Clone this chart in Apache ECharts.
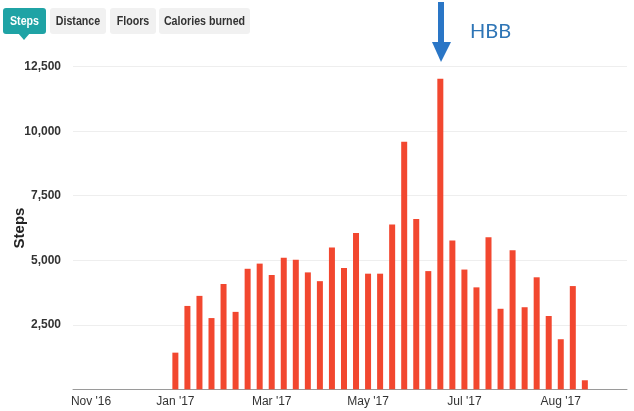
<!DOCTYPE html>
<html>
<head>
<meta charset="utf-8">
<script src="https://cdn.jsdelivr.net/npm/echarts@6/dist/echarts.min.js"></script>
<style>
html,body{margin:0;padding:0;background:#fff;}
#chart{width:634px;height:411px;}
</style>
</head>
<body>
<div id="chart"></div>
<script>
// Weekly categories (46 weeks shown on the axis)
const weeks = [
  "w01","w02","w03","w04","w05","w06","w07","w08","w09","w10",
  "w11","w12","w13","w14","w15","w16","w17","w18","w19","w20",
  "w21","w22","w23","w24","w25","w26","w27","w28","w29","w30",
  "w31","w32","w33","w34","w35","w36","w37","w38","w39","w40",
  "w41","w42","w43","w44","w45","w46"
];
// Steps per week (null = no data)
const steps = [
  null, null, null, null, null, null, null, null,
  1420, 3230, 3620, 2760, 4080, 3000, 4670, 4870, 4430, 5100,
  5020, 4530, 4190, 5490, 4700, 6060, 4480, 4480, 6390, 9590,
  6600, 4580, 12030, 5770, 4640, 3950, 5890, 3120, 5390, 3180,
  4340, 2840, 1940, 4000, 350,
  null, null, null
];
// Month tick labels and the week index where each appears
const tickIndex = [1, 8, 16, 24, 32, 40];
const tickLabels = ["Nov '16", "Jan '17", "Mar '17", "May '17", "Jul '17", "Aug '17"];
const yTicks = [0, 2500, 5000, 7500, 10000, 12500];
const tabs = ["Steps", "Distance", "Floors", "Calories burned"];
const annotation = "HBB";

const chart = echarts.init(document.getElementById('chart'));
const font = "'Liberation Sans', Arial, sans-serif";

const tabGeom = [[3, 43], [50, 56], [110, 46], [159, 91]];
const graphics = [];
tabs.forEach((t, i) => {
  const [x, w] = tabGeom[i];
  const active = i === 0;
  graphics.push({
    type: 'rect', left: x, top: 8,
    shape: { width: w, height: 26, r: 3 },
    style: { fill: active ? '#1fa3a5' : '#f1f1f1' }
  });
  graphics.push({
    type: 'text', x: x + w / 2, y: 21, scaleX: 0.82,
    style: {
      text: t, fill: active ? '#ffffff' : '#333333',
      font: "bold 13px " + font, align: 'center', verticalAlign: 'middle'
    }
  });
});
graphics.push({
  type: 'polygon',
  shape: { points: [[18, 33], [30, 33], [24, 40]] },
  style: { fill: '#1fa3a5' }
});
// annotation arrow
graphics.push({
  type: 'rect', shape: { x: 438, y: 2, width: 6, height: 41 },
  style: { fill: '#2a76c6' }
});
graphics.push({
  type: 'polygon',
  shape: { points: [[432, 42], [451, 42], [441, 62]] },
  style: { fill: '#2a76c6' }
});
graphics.push({
  type: 'text', x: 470, y: 32,
  style: {
    text: annotation, fill: '#2e75b6',
    font: "20px Lato, 'Open Sans', sans-serif", verticalAlign: 'middle'
  }
});

chart.setOption({
  animation: false,
  backgroundColor: '#ffffff',
  grid: { left: 73, right: 7, top: 66.7, bottom: 21.7, containLabel: false, outerBoundsMode: 'none' },
  xAxis: {
    type: 'category',
    data: weeks,
    boundaryGap: true,
    axisLine: { lineStyle: { color: '#9a9a9a', width: 1 } },
    axisTick: { show: false },
    axisLabel: {
      interval: (idx) => tickIndex.indexOf(idx) >= 0,
      formatter: (v, idx) => {
        const k = tickIndex.indexOf(idx);
        return k >= 0 ? tickLabels[k] : '';
      },
      color: '#333333', fontFamily: font, fontSize: 12, margin: 6
    },
    splitLine: { show: false }
  },
  yAxis: {
    type: 'value',
    min: yTicks[0], max: yTicks[yTicks.length - 1], interval: 2500,
    name: 'Steps',
    nameLocation: 'middle',
    nameGap: 46,
    nameMoveOverlap: false,
    nameTextStyle: { fontFamily: font, fontSize: 15, fontWeight: 'bold', color: '#222' },
    axisLine: { show: false },
    axisTick: { show: false },
    axisLabel: {
      showMinLabel: false,
      formatter: (v) => v.toLocaleString('en-US'),
      color: '#333333', fontFamily: font, fontSize: 12, fontWeight: 'bold', margin: 12
    },
    splitLine: { lineStyle: { color: '#eeeeee', width: 1 } }
  },
  series: [{
    type: 'bar',
    data: steps,
    barWidth: 6,
    itemStyle: { color: '#f2472f' }
  }],
  graphic: graphics
});
</script>
</body>
</html>
